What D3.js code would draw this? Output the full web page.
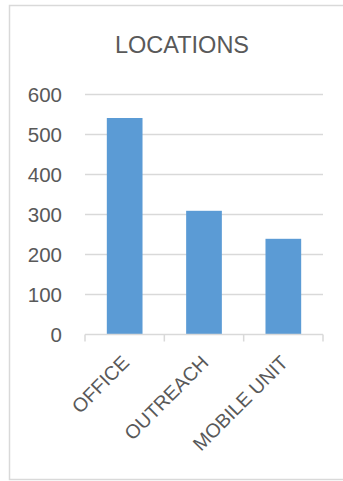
<!DOCTYPE html>
<html>
<head>
<meta charset="utf-8">
<script src="https://cdn.jsdelivr.net/npm/d3@7"></script>
<style>
  html, body { margin: 0; padding: 0; background: #fff; }
  svg { display: block; }
</style>
</head>
<body>
<script>
// Chart data
const categories = ["OFFICE", "OUTREACH", "MOBILE UNIT"];
const values = [540, 308, 238];
const yTicks = [0, 100, 200, 300, 400, 500, 600];
const title = "LOCATIONS";

const W = 343, H = 481;
const textColor = "#595959";
const gridColor = "#d9d9d9";
const barColor = "#5b9bd5";
const font = "'Liberation Sans', Arial, sans-serif";

const svg = d3.select("body").append("svg")
  .attr("width", W).attr("height", H);

// Chart area frame
svg.append("rect")
  .attr("x", 9.5).attr("y", 5.5)
  .attr("width", W + 10).attr("height", 474)
  .attr("fill", "#fff")
  .attr("stroke", gridColor).attr("stroke-width", 1.5);

const plot = { left: 85, right: 323, top: 94, bottom: 334 };

const x = d3.scaleBand()
  .domain(categories)
  .range([plot.left, plot.right])
  .paddingInner(0.55)
  .paddingOuter(0.275);

const y = d3.scaleLinear()
  .domain([0, 600])
  .range([plot.bottom, plot.top]);

// Title
svg.append("text")
  .attr("x", 182).attr("y", 53)
  .attr("text-anchor", "middle")
  .attr("fill", textColor)
  .style("font-family", font)
  .style("font-size", "23.5px")
  .text(title);

// Horizontal gridlines
svg.append("g")
  .selectAll("line")
  .data(yTicks.filter(d => d > 0))
  .join("line")
  .attr("x1", plot.left).attr("x2", plot.right)
  .attr("y1", d => Math.round(y(d)) + 0.5)
  .attr("y2", d => Math.round(y(d)) + 0.5)
  .attr("stroke", gridColor)
  .attr("stroke-width", 1.5);

// Y axis labels
const yAxis = d3.axisLeft(y).tickValues(yTicks).tickSize(0).tickPadding(0);
const gy = svg.append("g")
  .attr("transform", `translate(62,0)`)
  .call(yAxis);
gy.select(".domain").remove();
gy.selectAll("text")
  .attr("fill", textColor)
  .attr("dy", "0.36em")
  .style("font-family", font)
  .style("font-size", "20.5px");

// Bars
svg.append("g")
  .selectAll("rect")
  .data(categories.map((c, i) => ({ c, v: values[i] })))
  .join("rect")
  .attr("x", d => x(d.c))
  .attr("width", x.bandwidth())
  .attr("y", d => y(d.v))
  .attr("height", d => y(0) - y(d.v))
  .attr("fill", barColor);

// X axis with category boundaries as ticks
const xAxisG = svg.append("g")
  .attr("transform", `translate(0,${plot.bottom + 0.5})`);
xAxisG.append("line")
  .attr("x1", plot.left).attr("x2", plot.right)
  .attr("stroke", gridColor).attr("stroke-width", 1.5);
const bounds = d3.range(categories.length + 1).map(i => plot.left + i * (plot.right - plot.left) / categories.length);
xAxisG.selectAll("line.tick")
  .data(bounds)
  .join("line")
  .attr("class", "tick")
  .attr("x1", d => d).attr("x2", d => d)
  .attr("y1", 0).attr("y2", 7)
  .attr("stroke", gridColor).attr("stroke-width", 1.5);

// Rotated category labels
svg.append("g")
  .selectAll("text")
  .data(categories)
  .join("text")
  .attr("transform", d => `translate(${x(d) + x.bandwidth() / 2 + 1},${plot.bottom + 25}) rotate(-45)`)
  .attr("text-anchor", "end")
  .attr("dy", "0.35em")
  .attr("fill", textColor)
  .style("font-family", font)
  .style("font-size", "19.5px")
  .text(d => d);
</script>
</body>
</html>
